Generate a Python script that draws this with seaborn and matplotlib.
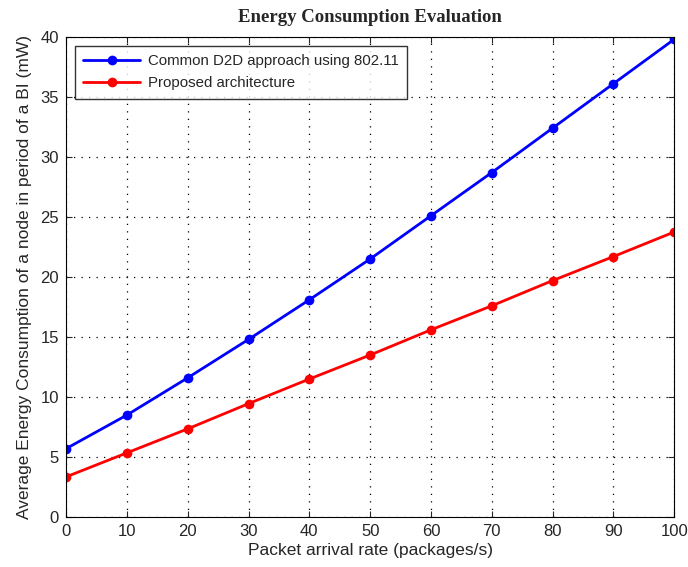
import matplotlib
matplotlib.use("Agg")
import matplotlib.pyplot as plt
import pandas as pd
import seaborn as sns

RATES = [0, 10, 20, 30, 40, 50, 60, 70, 80, 90, 100]
COMMON_D2D = [5.7, 8.5, 11.6, 14.8, 18.1, 21.5, 25.1, 28.7, 32.4, 36.1, 39.8]
PROPOSED = [3.35, 5.35, 7.35, 9.45, 11.5, 13.5, 15.6, 17.6, 19.7, 21.7, 23.75]
LABELS = ["Common D2D approach using 802.11", "Proposed architecture"]

sns.set_style("ticks")
plt.rcParams["font.family"] = ["Liberation Sans", "DejaVu Sans"]

df = pd.DataFrame({"rate": RATES * 2,
                   "energy": COMMON_D2D + PROPOSED,
                   "series": [LABELS[0]] * len(RATES) + [LABELS[1]] * len(RATES)})

fig = plt.figure(figsize=(6.88, 5.67), dpi=100)
ax = fig.add_axes([0.096, 0.088, 0.884, 0.847])
sns.lineplot(data=df, x="rate", y="energy", hue="series",
             palette={LABELS[0]: "#0000ff", LABELS[1]: "#ff0000"},
             marker="o", markersize=7, markeredgewidth=0, linewidth=2, ax=ax)

ax.set_xlim(0, 100)
ax.set_ylim(0, 40)
ax.set_xticks(range(0, 101, 10))
ax.set_yticks(range(0, 41, 5))
ax.grid(True, linestyle=(0, (1, 5)), color="black", linewidth=0.9)
for s in ax.spines.values():
    s.set_visible(True)
    s.set_color("black")
ax.tick_params(direction="in", top=True, right=True, labelsize=12, length=4, pad=5)
ax.set_xlabel("Packet arrival rate (packages/s)", fontsize=12.5, labelpad=3)
ax.set_ylabel("Average Energy Consumption of a node in period of a BI (mW)",
              fontsize=12.5, labelpad=6)
ax.set_title("Energy Consumption Evaluation", fontsize=13.5, fontweight="bold",
             family=["Liberation Serif", "DejaVu Serif"], pad=11)

leg = ax.legend(loc="upper left", fontsize=10.8, frameon=True, fancybox=False,
                edgecolor="black", borderaxespad=0.6, handlelength=3.8,
                handletextpad=0.5, labelspacing=0.55, borderpad=0.55)
leg.get_frame().set_linewidth(1)

fig.savefig("out.png", dpi=100)
